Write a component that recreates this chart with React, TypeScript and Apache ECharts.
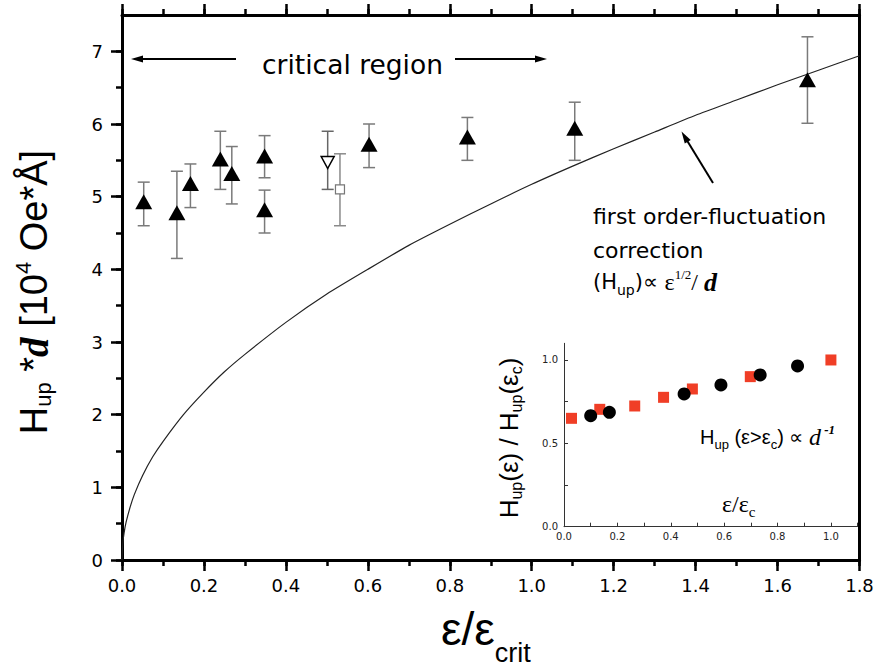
import React, { useEffect, useRef } from 'react';
import * as echarts from 'echarts';

// ---------- axis ranges ----------
const mainXRange = [0, 1.8];
const mainYRange = [0, 7.5];
const insetXRange = [0, 1.1];
const insetYRange = [0, 1.1];

// ---------- main panel data ----------
// filled triangles: eps/eps_crit, H_up*d, error-bar low, error-bar high
const triX = [0.053, 0.134, 0.167, 0.240, 0.268, 0.348, 0.348, 0.603, 0.843, 1.105, 1.673];
const triY = [4.93, 4.78, 5.18, 5.52, 5.32, 5.56, 4.82, 5.72, 5.82, 5.94, 6.61];
const triLo = [4.60, 4.15, 4.85, 5.10, 4.90, 5.26, 4.50, 5.40, 5.50, 5.50, 6.01];
const triHi = [5.20, 5.35, 5.45, 5.90, 5.69, 5.84, 5.09, 6.00, 6.09, 6.30, 7.20];

// open down-triangle
const openTriX = [0.502];
const openTriY = [5.47];
const openTriLo = [5.10];
const openTriHi = [5.90];

// open square
const openSqX = [0.532];
const openSqY = [5.10];
const openSqLo = [4.60];
const openSqHi = [5.59];

// first order-fluctuation correction curve
const curveX = [0, 0.002, 0.005, 0.01, 0.02, 0.03, 0.05, 0.075, 0.1, 0.15, 0.2, 0.25, 0.3, 0.4, 0.5, 0.6, 0.7, 0.8, 0.9, 1.0, 1.1, 1.2, 1.3, 1.4, 1.5, 1.6, 1.7, 1.8];
const curveY = [0, 0.23, 0.37, 0.52, 0.73, 0.90, 1.16, 1.42, 1.63, 2.00, 2.31, 2.59, 2.83, 3.27, 3.66, 4.00, 4.33, 4.62, 4.90, 5.17, 5.42, 5.66, 5.89, 6.12, 6.33, 6.54, 6.74, 6.94];

// ---------- inset data ----------
const insetSqX = [0.028, 0.134, 0.265, 0.373, 0.481, 0.698, 1.0];
const insetSqY = [0.65, 0.704, 0.724, 0.776, 0.826, 0.90, 1.0];
const insetCircX = [0.10, 0.17, 0.45, 0.588, 0.735, 0.875];
const insetCircY = [0.666, 0.686, 0.796, 0.85, 0.91, 0.964];

// ---------- tick labels / tick steps ----------
const mainYTicks = [0, 1, 2, 3, 4, 5, 6, 7];
const insetYLabels = [0, 0.5, 1.0];
const insetXLabels = [0, 0.2, 0.4, 0.6, 0.8, 1.0];
const mainXMajorStep = 0.2;
const mainXMinorStep = 0.1;
const mainYMajorStep = 1;
const mainYMinorStep = 0.5;
const insetXTickStep = 0.1;
const insetYTickStep = 0.25;

const sans = 'DejaVu Sans';
const helv = 'Liberation Sans';
const serif = 'Liberation Serif';

function arrow(x1: number, y1: number, x2: number, y2: number, head = 12, half = 3.5, lw = 2) {
  const dx = x2 - x1, dy = y2 - y1;
  const L = Math.hypot(dx, dy);
  const ux = dx / L, uy = dy / L;
  const bx = x2 - ux * head, by = y2 - uy * head;
  const px = -uy * half, py = ux * half;
  return [
    { type: 'line', z: 100, shape: { x1, y1, x2: bx + ux * 2, y2: by + uy * 2 }, style: { stroke: '#000', lineWidth: lw } },
    { type: 'polygon', z: 100, shape: { points: [[x2, y2], [bx + px, by + py], [bx - px, by - py]] }, style: { fill: '#000' } },
  ];
}

function txt(x: number, y: number, text: string, rich: any, extra: any = {}) {
  return {
    type: 'text',
    x,
    y,
    z: 100,
    rotation: extra.rotation || 0,
    style: {
      text,
      rich,
      fill: '#000',
      fontFamily: extra.fontFamily || sans,
      fontSize: extra.fontSize || 20,
      align: extra.align || 'left',
      verticalAlign: 'middle',
      textAlign: extra.align || 'left',
      textVerticalAlign: 'middle',
    },
  };
}

function errorBarRender(color: string) {
  return (params: any, api: any) => {
    const x = api.value(0), lo = api.value(1), hi = api.value(2);
    const pLo = api.coord([x, lo]);
    const pHi = api.coord([x, hi]);
    const w = 6;
    const st = { stroke: color, lineWidth: 1.5 };
    return {
      type: 'group',
      children: [
        { type: 'line', shape: { x1: pLo[0], y1: pLo[1], x2: pHi[0], y2: pHi[1] }, style: st },
        { type: 'line', shape: { x1: pLo[0] - w, y1: pLo[1], x2: pLo[0] + w, y2: pLo[1] }, style: st },
        { type: 'line', shape: { x1: pHi[0] - w, y1: pHi[1], x2: pHi[0] + w, y2: pHi[1] }, style: st },
      ],
    };
  };
}

export default function App() {
  const ref = useRef<HTMLDivElement>(null);
  useEffect(() => {
    document.body.style.margin = '0';
    const chart = echarts.init(ref.current!, null, { renderer: 'svg' });

    const black = '#000';
    const mainAxisLine = { show: true, onZero: false, lineStyle: { color: black, width: 3 } };
    const mainLabel = { color: black, fontFamily: sans, fontSize: 18 };
    const insetLine = { show: true, onZero: false, lineStyle: { color: '#333', width: 1 } };
    const insetLabel = { color: '#222', fontFamily: sans, fontSize: 10 };
    const noTick = { show: false };

    // main plot rect
    const mL = 122, mT = 15, mW = 874 - 14.5 - 122, mH = 668 - 108 - 15;
    // inset plot rect
    const iL = 564, iT = 343.3, iW = 293.6, iH = 183.4;

    const grids: any[] = [
      { left: mL, top: mT, width: mW, height: mH, outerBoundsMode: 'none', containLabel: false },
      { left: iL, top: iT, width: iW, height: iH, outerBoundsMode: 'none', containLabel: false },
    ];
    const xAxes: any[] = [
      {
        type: 'value', gridIndex: 0, min: mainXRange[0], max: mainXRange[1], interval: mainXMajorStep, position: 'bottom',
        axisLine: mainAxisLine, axisTick: noTick, minorTick: noTick,
        splitLine: { show: false }, minorSplitLine: { show: false },
        axisLabel: { ...mainLabel, margin: 16, formatter: (v: number) => v.toFixed(1) },
      },
      {
        type: 'value', gridIndex: 0, min: mainXRange[0], max: mainXRange[1], interval: mainXMajorStep, position: 'top',
        axisLine: mainAxisLine, axisTick: noTick, minorTick: noTick,
        splitLine: { show: false }, minorSplitLine: { show: false },
        axisLabel: { show: false },
      },
      {
        type: 'value', gridIndex: 1, min: insetXRange[0], max: insetXRange[1], interval: 0.2, position: 'bottom',
        axisLine: insetLine, axisTick: noTick,
        splitLine: { show: false },
        axisLabel: { ...insetLabel, margin: 5, customValues: insetXLabels, formatter: (v: number) => v.toFixed(1) },
      },
    ];
    const yAxes: any[] = [
      {
        type: 'value', gridIndex: 0, min: mainYRange[0], max: mainYRange[1], interval: mainYMajorStep, position: 'left',
        axisLine: mainAxisLine, axisTick: noTick,
        splitLine: { show: false },
        axisLabel: { ...mainLabel, margin: 19, customValues: mainYTicks, formatter: (v: number) => (Number.isInteger(v) ? String(v) : '') },
      },
      {
        type: 'value', gridIndex: 0, min: mainYRange[0], max: mainYRange[1], interval: mainYMajorStep, position: 'right',
        axisLine: mainAxisLine, axisTick: noTick, splitLine: { show: false }, axisLabel: { show: false },
      },
      {
        type: 'value', gridIndex: 1, min: insetYRange[0], max: insetYRange[1], interval: 0.5, position: 'left',
        axisLine: insetLine, axisTick: noTick,
        splitLine: { show: false },
        axisLabel: { ...insetLabel, margin: 6, customValues: insetYLabels, formatter: (v: number) => (v > 1.05 ? '' : v.toFixed(1)) },
      },
    ];

    // tick marks: thin strip grids whose split lines (from the same scale) form the ticks
    const hiddenAxis = (gi: number) => ({ type: 'value', gridIndex: gi, min: 0, max: 1, show: false });
    const splitAxis = (gi: number, range: number[], step: number, lw: number, color: string, hideMax: boolean) => ({
      type: 'value', gridIndex: gi, min: range[0], max: range[1], interval: step,
      axisLine: { show: false }, axisTick: { show: false }, axisLabel: { show: false },
      splitLine: { show: true, showMinLine: true, showMaxLine: !hideMax, lineStyle: { color, width: lw, type: 'solid' } },
    });
    const hStrip = (left: number, top: number, width: number, height: number, range: number[], step: number, lw: number, color: string) => {
      const gi = grids.length;
      grids.push({ left, top, width, height, outerBoundsMode: 'none', containLabel: false });
      xAxes.push(splitAxis(gi, range, step, lw, color, false));
      yAxes.push(hiddenAxis(gi));
    };
    const vStrip = (left: number, top: number, width: number, height: number, range: number[], step: number, lw: number, color: string) => {
      const gi = grids.length;
      grids.push({ left, top, width, height, outerBoundsMode: 'none', containLabel: false });
      xAxes.push(hiddenAxis(gi));
      yAxes.push(splitAxis(gi, range, step, lw, color, true));
    };
    // main bottom: major 11px, minor 6px (outward)
    hStrip(mL, mT + mH, mW, 11, mainXRange, mainXMajorStep, 2.5, black);
    hStrip(mL, mT + mH, mW, 6, mainXRange, mainXMinorStep, 2.5, black);
    // main top
    hStrip(mL, mT - 11, mW, 11, mainXRange, mainXMajorStep, 2.5, black);
    hStrip(mL, mT - 6, mW, 6, mainXRange, mainXMinorStep, 2.5, black);
    // main left
    vStrip(mL - 11, mT, 11, mH, mainYRange, mainYMajorStep, 2.5, black);
    vStrip(mL - 6, mT, 6, mH, mainYRange, mainYMinorStep, 2.5, black);
    // inset (inward)
    hStrip(iL, iT + iH - 4, iW, 4, insetXRange, insetXTickStep, 1, '#333');
    vStrip(iL, iT, 4, iH, insetYRange, insetYTickStep, 1, '#333');

    const texts: any[] = [
      txt(34, 292, '{n|H}{s|up}{n| *}{d|d}{n| [10}{p|4}{n| Oe*Å]}', {
        n: { fontFamily: helv, fontSize: 38, fill: '#000' },
        s: { fontFamily: helv, fontSize: 22, padding: [18, 0, 0, 0], fill: '#000' },
        d: { fontFamily: serif, fontSize: 39, fontStyle: 'italic', fontWeight: 'bold', fill: '#000' },
        p: { fontFamily: helv, fontSize: 22, padding: [0, 0, 22, 0], fill: '#000' },
      }, { rotation: Math.PI / 2, align: 'center' }),
      txt(441, 629, '{e|ε/ε}{c|crit}', {
        e: { fontFamily: helv, fontSize: 46, fill: '#000' },
        c: { fontFamily: helv, fontSize: 27, padding: [48, 0, 0, 0], fill: '#000' },
      }),
      txt(262, 64, 'critical region', null, { fontSize: 26.5 }),
      ...arrow(236, 59, 131, 59),
      ...arrow(455, 59, 547, 59),
      txt(593, 216, 'first order-fluctuation', null, { fontSize: 22 }),
      txt(593, 250, 'correction', null, { fontSize: 22 }),
      txt(593, 282, '{n|(H}{s|up}{n|)∝ }{g|ε}{p|1/2}{g|/ }{d|d}', {
        n: { fontFamily: sans, fontSize: 21, fill: '#000' },
        s: { fontFamily: sans, fontSize: 14, padding: [16, 0, 0, 0], fill: '#000' },
        g: { fontFamily: serif, fontSize: 24, fill: '#000' },
        p: { fontFamily: serif, fontSize: 13, padding: [0, 0, 16, 0], fill: '#000' },
        d: { fontFamily: serif, fontSize: 26, fontStyle: 'italic', fontWeight: 'bold', fill: '#000' },
      }),
      ...arrow(713, 183, 681.5, 131.5),
      txt(509, 438, '{n|H}{s|up}{n|(ε) / H}{s|up}{n|(ε}{s|c}{n|)}', {
        n: { fontFamily: helv, fontSize: 26, fill: '#000' },
        s: { fontFamily: helv, fontSize: 16, padding: [14, 0, 0, 0], fill: '#000' },
      }, { rotation: Math.PI / 2, align: 'center' }),
      txt(700, 437, '{n|H}{s|up}{n| (ε>ε}{s|c}{n|) ∝ }{d|d}{p| -1}', {
        n: { fontFamily: helv, fontSize: 20, fill: '#000' },
        s: { fontFamily: helv, fontSize: 13, padding: [14, 0, 0, 0], fill: '#000' },
        d: { fontFamily: serif, fontSize: 24, fontStyle: 'italic', fill: '#000' },
        p: { fontFamily: serif, fontSize: 13, fontStyle: 'italic', fontWeight: 'bold', padding: [0, 0, 16, 0], fill: '#000' },
      }),
      txt(722, 504, '{e|ε/ε}{c|c}', {
        e: { fontFamily: serif, fontSize: 24, fill: '#000' },
        c: { fontFamily: serif, fontSize: 15, padding: [16, 0, 0, 0], fill: '#000' },
      }),
    ];

    const option: any = {
      animation: false,
      backgroundColor: '#fff',
      grid: grids,
      xAxis: xAxes,
      yAxis: yAxes,
      series: [
        {
          type: 'line', xAxisIndex: 0, yAxisIndex: 0, z: 2,
          data: curveX.map((x, i) => [x, curveY[i]]),
          showSymbol: false, smooth: 0.2,
          lineStyle: { color: '#222', width: 1.2 },
        },
        {
          type: 'custom', xAxisIndex: 0, yAxisIndex: 0, z: 3,
          data: triX.map((x, i) => [x, triLo[i], triHi[i]]),
          encode: { x: 0, y: [1, 2] },
          renderItem: errorBarRender('#7a7a7a'),
        },
        {
          type: 'custom', xAxisIndex: 0, yAxisIndex: 0, z: 3,
          data: openTriX.map((x, i) => [x, openTriLo[i], openTriHi[i]]),
          encode: { x: 0, y: [1, 2] },
          renderItem: errorBarRender('#666'),
        },
        {
          type: 'custom', xAxisIndex: 0, yAxisIndex: 0, z: 3,
          data: openSqX.map((x, i) => [x, openSqLo[i], openSqHi[i]]),
          encode: { x: 0, y: [1, 2] },
          renderItem: errorBarRender('#8a8a8a'),
        },
        {
          type: 'scatter', xAxisIndex: 0, yAxisIndex: 0, z: 5,
          data: triX.map((x, i) => [x, triY[i]]),
          symbol: 'triangle', symbolSize: [17, 15],
          itemStyle: { color: '#000', opacity: 1 },
        },
        {
          type: 'scatter', xAxisIndex: 0, yAxisIndex: 0, z: 5,
          data: openTriX.map((x, i) => [x, openTriY[i]]),
          symbol: 'triangle', symbolRotate: 180, symbolSize: [13, 12],
          itemStyle: { color: '#fff', borderColor: '#000', borderWidth: 1.5, opacity: 1 },
        },
        {
          type: 'scatter', xAxisIndex: 0, yAxisIndex: 0, z: 5,
          data: openSqX.map((x, i) => [x, openSqY[i]]),
          symbol: 'rect', symbolSize: 9,
          itemStyle: { color: '#fff', borderColor: '#777', borderWidth: 1.2, opacity: 1 },
        },
        {
          type: 'scatter', xAxisIndex: 2, yAxisIndex: 2, z: 5,
          data: insetSqX.map((x, i) => [x, insetSqY[i]]),
          symbol: 'rect', symbolSize: 11,
          itemStyle: { color: '#f03e26', opacity: 1 },
        },
        {
          type: 'scatter', xAxisIndex: 2, yAxisIndex: 2, z: 6,
          data: insetCircX.map((x, i) => [x, insetCircY[i]]),
          symbol: 'circle', symbolSize: 13,
          itemStyle: { color: '#000', opacity: 1 },
        },
      ],
      graphic: { elements: texts },
    };

    chart.setOption(option);
    return () => chart.dispose();
  }, []);
  return <div ref={ref} style={{ width: 874, height: 668, position: 'absolute', left: 0, top: 0, background: '#fff' }} />;
}
